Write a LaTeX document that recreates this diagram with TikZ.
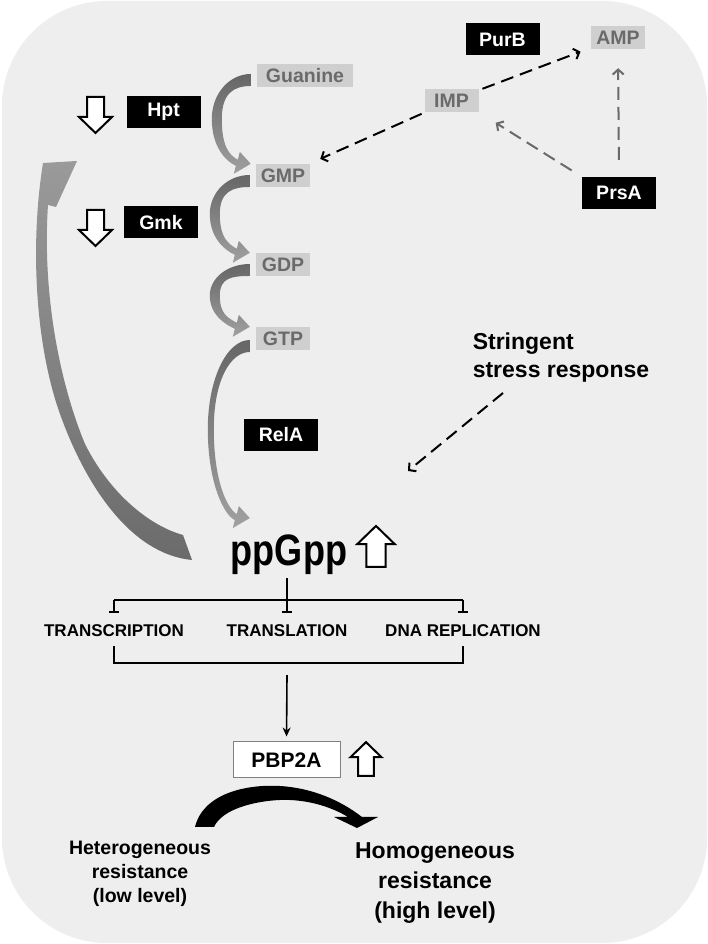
\documentclass[tikz,border=0pt]{standalone}
\usepackage{fontspec}
\setmainfont{Liberation Sans}
\newfontfamily\ppfont[FakeStretch=0.82]{Liberation Sans}
\usetikzlibrary{arrows.meta,calc}
\definecolor{bggray}{HTML}{EEEEEE}
\definecolor{metabfill}{HTML}{CFCFCF}
\definecolor{metabtext}{HTML}{6A6A6A}
\definecolor{bendtop}{HTML}{666666}
\definecolor{bendbot}{HTML}{A0A0A0}
\definecolor{fbdark}{HTML}{6B6B6B}
\definecolor{fblight}{HTML}{9A9A9A}
\definecolor{dashgray}{HTML}{6A6A6A}
\definecolor{boxgray}{HTML}{808080}
\tikzset{
  metab/.style={fill=metabfill, text=metabtext, font=\fontsize{19.5}{20}\selectfont\bfseries, minimum width=54pt, minimum height=23pt, inner sep=2pt},
  enzyme/.style={fill=black, text=white, font=\fontsize{19.5}{20}\selectfont\bfseries, minimum width=74pt, minimum height=32pt, inner sep=2pt},
  process/.style={font=\fontsize{17}{18}\selectfont\bfseries, inner sep=3pt},
  dasharrow/.style={line width=2pt, dash pattern=on 13pt off 7pt, -{Straight Barb[length=5pt,width=11pt,line width=2pt]}},
  graydash/.style={dasharrow, draw=dashgray},
  inhibit/.style={line width=1.7pt, -{Bar[width=10pt,line width=1.7pt]}},
  bracketline/.style={line width=1.7pt},
  blockarrow/.pic={\draw[line width=2pt, fill=white] (-8.5,0) -- (8.5,0) -- (8.5,-20) -- (16.5,-20) -- (0,-36) -- (-16.5,-20) -- (-8.5,-20) -- cycle;}
}
% tapered grey arrow from one metabolite to the next
\newcommand\bendarrow[5]{%
  \coordinate (ta) at ($(#1.west)+(-6,#5)$);
  \coordinate (tb) at ($(ta)+(0,-12)$);
  \coordinate (tip) at (ta |- #2);
  \shade[top color=bendtop, bottom color=bendbot]
    (ta) .. controls ($(ta)+(-0.55*#3,0)$) and ($(ta)!0.22!(tip)+(-#3,0)$) .. ($(ta)!0.5!(tip)+(-#3,0)$)
    .. controls ($(ta)!0.8!(tip)+(-#3,0)$) and ($(tip)+(-26,3)$) .. ($(tip)+(-15,-2)$)
    -- ($(tip)+(-17,-10)$) -- (tip) -- ($(tip)+(-11,12)$) -- ($(tip)+(-13,4)$)
    .. controls ($(tip)+(-22,9)$) and ($(ta)!0.8!(tip)+(-#3+#4,0)$) .. ($(ta)!0.5!(tip)+(-#3+#4,0)$)
    .. controls ($(ta)!0.22!(tip)+(-#3+#4,0)$) and ($(tb)+(-0.45*#3,0)$) .. (tb) -- cycle;
}

\begin{document}
\begin{tikzpicture}[x=1pt, y=1pt]
  \useasboundingbox (0,0) rectangle (708,944);
  \fill[white] (0,0) rectangle (708,944);
  \fill[bggray, rounded corners=105pt] (2,1) rectangle (707,943);

  % metabolites and enzymes
  \node[metab, minimum width=96pt] (guanine) at (305,868.5) {Guanine};
  \node[metab] (gmp) at (283,768.5) {GMP};
  \node[metab] (gdp) at (283,679.5) {GDP};
  \node[metab] (gtp) at (283,605.5) {GTP};
  \node[metab] (imp) at (451.5,843.5) {IMP};
  \node[metab] (amp) at (618,906.5) {AMP};
  \node[enzyme] (hpt) at (163.5,832) {Hpt};
  \node[enzyme] (gmk) at (161,721.5) {Gmk};
  \node[enzyme] (purb) at (502.5,904.5) {PurB};
  \node[enzyme] (prsa) at (619,751) {PrsA};
  \node[enzyme] (rela) at (281,509) {RelA};
  \node[font=\fontsize{23}{28}\selectfont\bfseries, align=left] (stress) at (561,586) {Stringent\\stress response};
  \node[font=\ppfont\bfseries\fontsize{44}{44}\selectfont, anchor=base, inner sep=3pt] (ppgpp) at (289,378) {ppGpp};
  \coordinate (ppgppin) at ($(ppgpp.north west)+(0,14)$);

  % purine branch
  \draw[dasharrow, shorten <=4pt, shorten >=12pt] (imp) -- (gmp);
  \draw[dasharrow, shorten <=4pt, shorten >=11pt] (imp) -- (amp);
  \draw[graydash, shorten <=12pt, shorten >=20pt] (prsa.north west) -- (imp.south east);
  \draw[graydash, shorten <=17pt, shorten >=19pt] (prsa.north) -- (amp.south);
  \coordinate (srfrom) at (503,551);
  \coordinate (srto) at (408,473);
  \draw[dasharrow] (srfrom) -- (srto);

  % guanine to ppGpp
  \bendarrow{guanine}{gmp.north}{39}{10}{1.5}
  \bendarrow{gmp}{gdp.north}{40}{10}{0.5}
  \bendarrow{gdp}{gtp.north}{40}{10}{0.5}
  \bendarrow{gtp}{ppgppin}{42}{6}{-1.5}

  % feedback from ppGpp
  \shade[bottom color=fbdark, top color=fblight]
    (192,384) -- (183,409) .. controls (150,418) and (110,450) .. (85,500)
    .. controls (60,560) and (42,650) .. (48,739) -- (56,737) -- (77,783) -- (43,781)
    .. controls (30,700) and (35,600) .. (60,530) .. controls (85,460) and (130,390) .. (192,384) -- cycle;

  % up / down
  \pic at (95.5,847) {blockarrow};
  \pic at (95.5,734) {blockarrow};
  \pic[rotate=180, scale=1.14] at (376,377) {blockarrow};

  % targets of ppGpp
  \node[process] (transcription) at (114,313) {TRANSCRIPTION};
  \node[process] (translation) at (287,313) {TRANSLATION};
  \node[process] (dnarep) at (463,313) {DNA REPLICATION};
  \coordinate (hub) at ($(translation.north)+(0,22)$);
  \draw[bracketline] (hub |- ppgpp.south) -- (hub);
  \draw[bracketline] (transcription.north |- hub) -- (dnarep.north |- hub);
  \foreach \p in {transcription, translation, dnarep}
    \draw[inhibit] (\p.north |- hub) -- ($(\p.north)+(0,9)$);
  \draw[bracketline] ($(transcription.south)+(0,-6)$) |- ($(dnarep.south)+(0,-23)$) -- ($(dnarep.south)+(0,-6)$);

  % PBP2A and resistance
  \node[draw=boxgray, fill=white, line width=1pt, font=\fontsize{21}{22}\selectfont\bfseries, minimum width=107pt, minimum height=36pt] (pbp2a) at (286.5,184) {PBP2A};
  \coordinate (brbottom) at ($(translation.south)+(0,-35)$);
  \draw[line width=1.6pt, shorten >=5pt, -{Stealth[length=9pt,width=8pt]}] (brbottom) -- (pbp2a.north);
  \pic[rotate=180, scale=0.94] at (366,168) {blockarrow};
  \node[font=\fontsize{19.5}{24}\selectfont\bfseries, align=center] (hetero) at (140,70) {Heterogeneous\\resistance\\(low level)};
  \node[font=\fontsize{23}{30}\selectfont\bfseries, align=center] (homo) at (435,61) {Homogeneous\\resistance\\(high level)};
  \fill[black] (195,117) .. controls (203,150) and (245,160) .. (280,158)
    .. controls (312,156) and (340,144) .. (362,127) -- (378,127) -- (357,116) -- (334,127) -- (348,127)
    .. controls (330,138) and (305,145) .. (280,144) .. controls (255,143) and (222,135) .. (214,117) -- cycle;
\end{tikzpicture}
\end{document}
